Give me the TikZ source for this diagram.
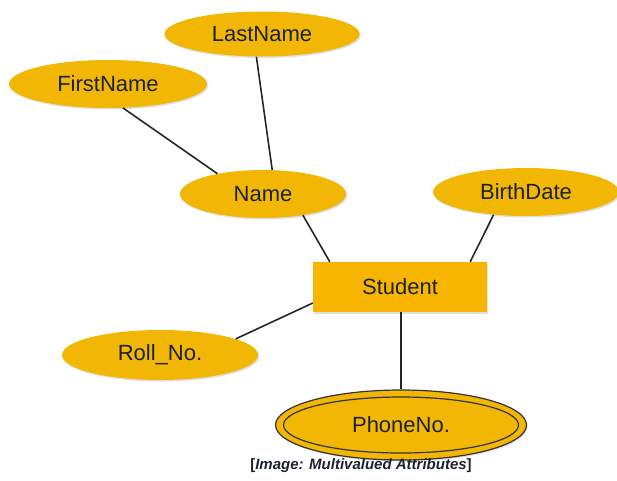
\documentclass[tikz,border=0pt]{standalone}
\usepackage{fontspec}
\setmainfont{Liberation Sans}
\usetikzlibrary{shapes.geometric,shadows}
\definecolor{attrfill}{HTML}{F2B705}
\definecolor{entfill}{HTML}{F7B500}
\definecolor{inkblue}{HTML}{1C2233}
\tikzset{
  attr/.style={ellipse, fill=attrfill, inner sep=0pt,
    drop shadow={shadow xshift=1.2pt, shadow yshift=-1.5pt, opacity=0.25},
    text=inkblue, font=\fontsize{22}{26}\selectfont},
  entity/.style={rectangle, fill=entfill, inner sep=0pt,
    drop shadow={shadow xshift=1.2pt, shadow yshift=-1.5pt, opacity=0.25},
    text=inkblue, font=\fontsize{22}{26}\selectfont},
  link/.style={line width=1.6pt, black!85}
}
\begin{document}
\begin{tikzpicture}[x=1pt, y=-1pt]
\useasboundingbox (0,0) rectangle (617,480);

% attributes
\node[attr, minimum width=195pt, minimum height=45pt] (last) at (262,34) {LastName};
\node[attr, minimum width=198pt, minimum height=48pt] (first) at (108,84) {FirstName};
\node[attr, minimum width=166pt, minimum height=48pt] (name) at (263,194) {Name};
\node[attr, minimum width=186pt, minimum height=48pt] (birth) at (526,192) {BirthDate};
\node[attr, minimum width=196pt, minimum height=50pt] (roll) at (160,355) {Roll\_No.};

% entity
\node[entity, minimum width=174pt, minimum height=50pt] (student) at (400,287) {Student};

% multivalued attribute: double outline
\node[attr, minimum width=251pt, minimum height=70pt, draw=black!80, line width=1.2pt] (phone) at (401,425) {};
\node[ellipse, minimum width=235pt, minimum height=56pt, draw=black!80, line width=1.2pt,
  text=inkblue, font=\fontsize{22}{26}\selectfont] (phonein) at (401,425) {PhoneNo.};

% attachment points on the entity box
\coordinate (stNameEnd) at ([xshift=17pt]student.north west);
\coordinate (stBirthEnd) at ([xshift=-17pt]student.north east);
\coordinate (stRollEnd) at ([yshift=-16pt]student.west);
\coordinate (stPhoneEnd) at ([xshift=1pt]student.south);

% connectors
\draw[link] (first.-58) -- (name.156);
\draw[link] (last.-104) -- (name.69);
\draw[link] (name.-28) -- (stNameEnd);
\draw[link] (birth.-145) -- (stBirthEnd);
\draw[link] (stRollEnd) -- (roll.12);
\draw[link] (stPhoneEnd) -- (phone.north);

% caption
\node[text=inkblue, font=\fontsize{15}{17}\selectfont\bfseries] (cap) at (361,466)
  {[\textit{Image: Multivalued Attributes}]};
\end{tikzpicture}
\end{document}
